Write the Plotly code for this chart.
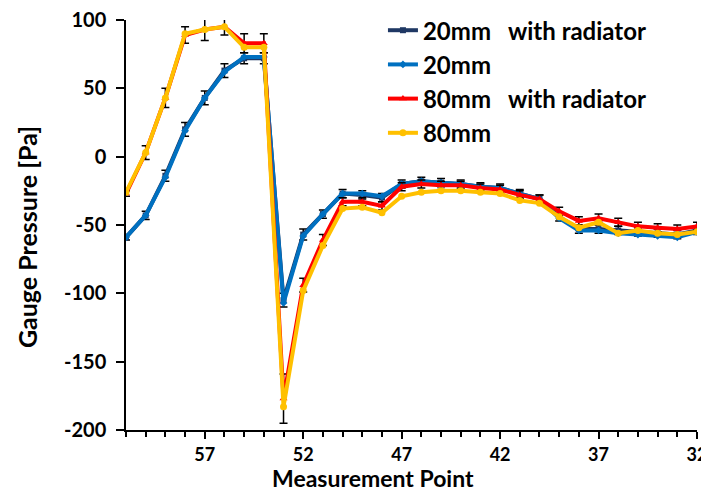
import plotly.graph_objects as go

points = list(range(61, 31, -1))

p20_rad = [-59, -43, -14, 20, 43, 63, 72, 72, -105, -57, -42, -27, -28, -30, -20, -18, -19, -20, -22, -23,
           -27, -31, -44, -53, -53, -54, -55, -56, -57, -54]
p20 = [-59, -43, -15, 19, 43, 62, 73, 73, -107, -58, -42, -27, -27, -29, -20, -18, -19, -20, -22, -23,
       -27, -31, -45, -54, -54, -56, -57, -58, -59, -55]
p80_rad = [-27, 3, 43, 89, 93, 95, 83, 83, -177, -94, -61, -33, -33, -36, -22, -20, -21, -21, -23, -24,
           -28, -31, -40, -47, -45, -48, -51, -52, -53, -51]
p80 = [-26, 3, 43, 90, 93, 95, 80, 80, -183, -98, -65, -38, -37, -41, -29, -26, -25, -25, -26, -27,
       -32, -34, -44, -52, -48, -56, -54, -56, -57, -55]

err20 = [2, 3, 4, 5, 5, 5, 4, 4, 5, 4, 3, 3, 3, 3, 3, 3, 3, 3, 3, 3, 3, 3, 3, 3, 3, 3, 3, 3, 3, 3]
err80 = [2, 5, 7, 6, 8, 6, 7, 7, 18, 5, 4, 3, 3, 3, 3, 3, 3, 3, 3, 3, 3, 3, 3, 3, 3, 3, 3, 3, 3, 3]

major_ticks = [57, 52, 47, 42, 37, 32]
y_ticks = [100, 50, 0, -50, -100, -150, -200]
y_ticktext = ["100", "50", "0", "-50", "-100", "-150", "-200"]

FONT = "Lato"

fig = go.Figure()
eb = dict(type="data", visible=True, color="black", thickness=1.5, width=4)

fig.add_trace(go.Scatter(x=points, y=p20_rad, name="20mm   with radiator", mode="lines+markers",
                         line=dict(color="#1F3864", width=4),
                         marker=dict(symbol="square", size=6, color="#1F3864"),
                         error_y=dict(array=err20, **eb)))
fig.add_trace(go.Scatter(x=points, y=p20, name="20mm", mode="lines+markers",
                         line=dict(color="#0070C0", width=4),
                         marker=dict(symbol="diamond", size=6, color="#0070C0")))
fig.add_trace(go.Scatter(x=points, y=p80_rad, name="80mm   with radiator", mode="lines+markers",
                         line=dict(color="#FF0000", width=4),
                         marker=dict(symbol="triangle-up", size=7, color="#FF0000"),
                         error_y=dict(array=err80, **eb)))
fig.add_trace(go.Scatter(x=points, y=p80, name="80mm", mode="lines+markers",
                         line=dict(color="#FFC000", width=4),
                         marker=dict(symbol="circle", size=7, color="#FFC000")))

# page body has an 8px default margin: figure is 701x485 so it ends at the window edge
fig.update_layout(
    width=701, height=485,
    margin=dict(l=118, r=12, t=12, b=63, autoexpand=False),
    plot_bgcolor="white", paper_bgcolor="white",
    font=dict(family=FONT, size=19, color="black"),
    showlegend=True,
    legend=dict(x=0.45, y=1.029, xanchor="left", yanchor="top", bgcolor="rgba(0,0,0,0)",
                font=dict(family=FONT, size=24, color="black", weight="bold"),
                tracegroupgap=0),
    xaxis=dict(range=[61, 32], tickmode="array", tickvals=major_ticks, automargin=False,
               ticks="outside", ticklen=7, tickwidth=1.5, tickcolor="black",
               showline=True, linecolor="black", linewidth=1.5, showgrid=False, zeroline=False,
               ticklabelstandoff=1, ticklabeloverflow="allow",
               tickfont=dict(family=FONT, size=18, color="black", weight="bold"),
               minor=dict(tickmode="linear", tick0=32, dtick=1, ticks="outside", ticklen=5,
                          tickwidth=1.5, tickcolor="black", showgrid=False)),
    yaxis=dict(range=[-200, 100], tickmode="array", tickvals=y_ticks, ticktext=y_ticktext,
               automargin=False, ticklabelstandoff=6, ticklabeloverflow="allow",
               ticks="outside", ticklen=8, tickwidth=1.5, tickcolor="black",
               showline=True, linecolor="black", linewidth=1.5, showgrid=False, zeroline=False,
               tickfont=dict(family=FONT, size=20, color="black", weight="bold")),
    annotations=[
        dict(text="Measurement Point", xref="paper", yref="paper", x=0.433, y=-0.1537,
             xanchor="center", yanchor="bottom", showarrow=False, borderpad=0,
             font=dict(family=FONT, size=23, color="black", weight="bold")),
        dict(text="Gauge Pressure [Pa]", xref="paper", yref="paper", x=-0.172, y=0.47,
             xanchor="center", yanchor="middle", textangle=-90, showarrow=False,
             font=dict(family=FONT, size=25, color="black", weight="bold")),
    ],
)

fig.write_html("out.html")
